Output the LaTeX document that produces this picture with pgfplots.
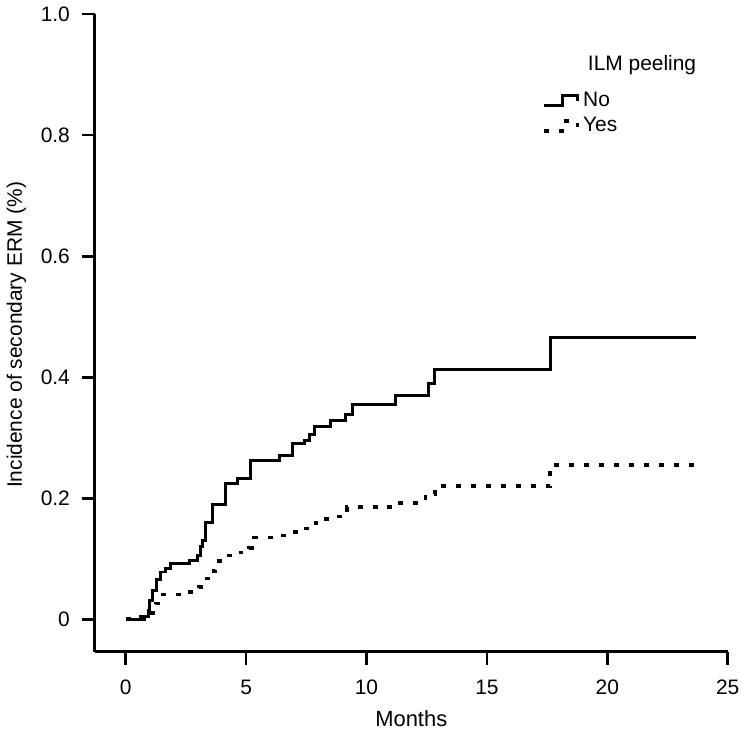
\documentclass[border=0pt]{standalone}
\usepackage{fontspec}
\setmainfont{Liberation Sans}
\usepackage{pgfplots}
\pgfplotsset{compat=1.18}

\begin{document}
\begin{tikzpicture}
\begin{axis}[
  scale only axis,
  width=317.5pt, height=320pt,
  xmin=-1.28, xmax=25,
  ymin=-0.054, ymax=1.0,
  axis lines*=left,
  axis line style={line width=1.4pt},
  tick align=outside,
  major tick length=6.5pt,
  tick style={line width=1.4pt, black},
  xtick={0,5,10,15,20,25},
  ytick={0,0.2,0.4,0.6,0.8,1.0},
  yticklabels={0,0.2,0.4,0.6,0.8,1.0},
  tick label style={font=\fontsize{10.5}{12}\selectfont},
  xticklabel style={yshift=-4pt},
  yticklabel style={xshift=-2.5pt},
  /pgf/number format/assume math mode=true,
  xlabel={Months},
  ylabel={Incidence of secondary ERM (\%)},
  label style={font=\fontsize{10.5}{12}\selectfont},
  xlabel style={at={(axis description cs:0.5,-0.104)}, anchor=center, font=\fontsize{11}{12}\selectfont},
  ylabel style={at={(axis description cs:-0.124,0.497)}, anchor=center, rotate=0},
  legend style={draw=none, fill=none, at={(0.707,0.885)}, anchor=north west,
    font=\fontsize{10.5}{12}\selectfont, row sep=0pt, inner sep=0pt,
    cells={anchor=west}},
  legend image code/.code={
    \draw[#1] (0pt,-2.5pt) -- (9pt,-2.5pt) -- (9pt,2.5pt) -- (16.5pt,2.5pt) -- (16.5pt,-0.5pt);
  },
]
% ILM peeling = No
\addplot[const plot, black, line width=1.5pt] coordinates {
  (0,0) (0.6,0.005) (0.95,0.015) (1.0,0.031) (1.12,0.048) (1.3,0.065)
  (1.43,0.078) (1.66,0.084) (1.87,0.092) (2.63,0.097) (2.98,0.105)
  (3.1,0.12) (3.19,0.13) (3.31,0.16) (3.6,0.19) (4.14,0.224) (4.64,0.232)
  (5.17,0.262) (6.37,0.27) (6.91,0.29) (7.41,0.296) (7.62,0.306)
  (7.82,0.318) (8.49,0.329) (9.11,0.339) (9.40,0.354) (11.22,0.369)
  (12.58,0.39) (12.83,0.412) (17.63,0.466) (23.68,0.466)
};
\addlegendentry{No}
% ILM peeling = Yes
\addplot[const plot, black, line width=1.8pt, dash pattern=on 2.5pt off 5pt] coordinates {
  (0,0) (0.95,0.01) (1.24,0.026) (1.53,0.041) (2.57,0.045) (3.05,0.053)
  (3.26,0.067) (3.52,0.08) (3.73,0.096) (4.14,0.105) (4.5,0.11)
  (5.13,0.118) (5.34,0.135) (6.42,0.138) (6.91,0.144) (7.4,0.15)
  (7.74,0.159) (8.24,0.166) (8.65,0.17) (9.19,0.185) (11.18,0.192)
  (12.45,0.207) (12.85,0.22) (17.63,0.255) (23.68,0.255)
};
\addlegendentry{Yes}
\node[anchor=west, font=\fontsize{10.5}{12}\selectfont] at (rel axis cs:0.768,0.92) {ILM peeling};
\end{axis}
\end{tikzpicture}
\end{document}
